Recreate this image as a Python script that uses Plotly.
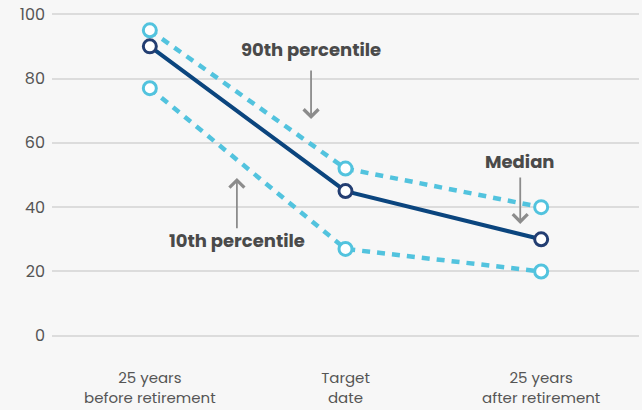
import plotly.graph_objects as go

categories = ["25 years<br>before retirement", "Target<br>date", "25 years<br>after retirement"]
p90 = [95, 52, 40]
median = [90, 45, 30]
p10 = [77, 27, 20]
y_ticks = [0, 20, 40, 60, 80, 100]

LIGHT = "#52c3de"
NAVY = "#0b457e"
NAVY_MK = "#233e72"
BG = "#f7f7f7"
GREY = "#8c8c8c"
FONT = "Poppins, Open Sans, sans-serif"

xs = list(range(len(categories)))
fig = go.Figure()
for vals, col, mcol, dash, w in [
    (p10, LIGHT, LIGHT, "8px,7px", 4.5),
    (p90, LIGHT, LIGHT, "8px,7px", 4.5),
    (median, NAVY, NAVY_MK, "solid", 4),
]:
    fig.add_trace(go.Scatter(
        x=xs, y=vals, mode="lines+markers",
        line=dict(color=col, width=w, dash=dash),
        marker=dict(symbol="circle", size=13, color="#ffffff",
                    line=dict(color=mcol, width=3)),
        cliponaxis=False, showlegend=False, hoverinfo="skip"))

def label_arrow(text, x, ty, tail, tip):
    fig.add_annotation(x=x, y=ty, text="<b>%s</b>" % text, showarrow=False,
                       font=dict(size=18, color="#4a4a4a", family=FONT),
                       xref="x", yref="y")
    fig.add_annotation(x=x, y=tip, ax=x, ay=tail, xref="x", yref="y",
                       axref="x", ayref="y", text="", showarrow=True,
                       arrowhead=4, arrowsize=1.6, arrowwidth=1.8,
                       arrowcolor=GREY)

label_arrow("90th percentile", 0.824, 89.1, 83.0, 67.4)
label_arrow("10th percentile", 0.445, 29.5, 33.0, 49.1)
label_arrow("Median", 1.893, 54.3, 49.7, 34.8)

fig.update_layout(
    width=642, height=410,
    margin=dict(l=52, r=3, t=11, b=71),
    paper_bgcolor=BG, plot_bgcolor=BG,
    font=dict(family=FONT, color="#555555", size=15),
    hovermode=False,
    xaxis=dict(range=[-0.5, 2.5], tickvals=xs, ticktext=categories,
               showgrid=False, zeroline=False, showline=False,
               ticks="", ticklabelstandoff=28, automargin=False,
               tickfont=dict(size=15, color="#555555")),
    yaxis=dict(range=[-1, 101], tickvals=y_ticks, showgrid=True,
               gridcolor="#dcdcdc", gridwidth=1.5, zeroline=False,
               showline=False, ticks="", ticklabelstandoff=6,
               automargin=False, ticklabeloverflow="allow",
               tickfont=dict(size=16, color="#555555")),
)
fig.write_html(
    "out.html",
    config={"displayModeBar": False},
    post_script="document.body.style.margin='0';document.body.style.overflow='hidden';",
)
